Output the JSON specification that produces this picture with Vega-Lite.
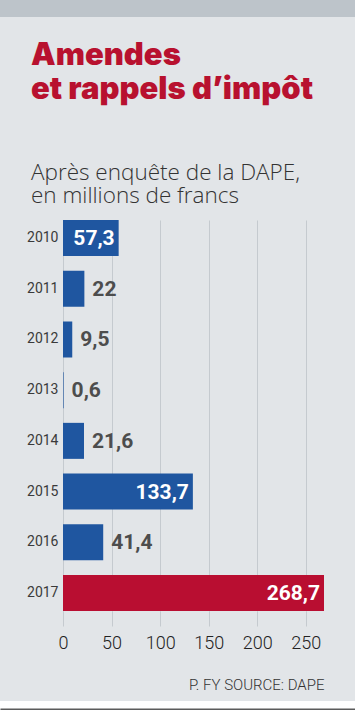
{
  "$schema": "https://vega.github.io/schema/vega-lite/v6.json",
  "background": "#e2e5e8",
  "padding": 0,
  "spacing": 22,
  "config": {"view": {"stroke": null}},
  "vconcat": [
    {
      "width": 355,
      "height": 17,
      "view": {"fill": "#bdc4ca", "stroke": null},
      "data": {"values": [{"a": 1}]},
      "mark": {"type": "text", "text": ""}
    },
    {
      "spacing": 7,
      "vconcat": [
        {
          "width": 325,
          "height": 391,
          "data": {
            "values": [
              {"year": "2010", "value": 57.3, "label": "57,3"},
              {"year": "2011", "value": 22, "label": "22"},
              {"year": "2012", "value": 9.5, "label": "9,5"},
              {"year": "2013", "value": 0.6, "label": "0,6"},
              {"year": "2014", "value": 21.6, "label": "21,6"},
              {"year": "2015", "value": 133.7, "label": "133,7"},
              {"year": "2016", "value": 41.4, "label": "41,4"},
              {"year": "2017", "value": 268.7, "label": "268,7"}
            ]
          },
          "title": {
            "text": ["Amendes", "et rappels d’impôt"],
            "subtitle": ["Après enquête de la DAPE,", "en millions de francs"],
            "anchor": "start",
            "frame": "group",
            "dx": 31,
            "font": "Inter",
            "fontSize": 31,
            "fontWeight": 900,
            "color": "#b8112f",
            "lineHeight": 34,
            "subtitleFont": "Open Sans",
            "subtitleFontSize": 22.5,
            "subtitleFontWeight": 300,
            "subtitleColor": "#333333",
            "subtitleLineHeight": 23,
            "subtitlePadding": 56,
            "offset": 12
          },
          "encoding": {
            "y": {
              "field": "year",
              "type": "nominal",
              "sort": null,
              "scale": {"paddingInner": 0.29, "paddingOuter": 0},
              "axis": {
                "title": null,
                "domain": false,
                "ticks": false,
                "offset": -63,
                "labelPadding": 5,
                "labelFont": "Roboto",
                "labelFontSize": 14,
                "labelFontWeight": 400,
                "labelColor": "#3a3a3a"
              }
            },
            "x": {
              "field": "value",
              "type": "quantitative",
              "scale": {"domain": [0, 268.7], "nice": false, "range": [63, 324]},
              "axis": {
                "title": "P. FY SOURCE: DAPE",
                "titleAnchor": "end",
                "titleFont": "Roboto",
                "titleFontSize": 15,
                "titleFontWeight": 300,
                "titleColor": "#333333",
                "titlePadding": 25,
                "domain": false,
                "grid": true,
                "gridColor": "#c5cacf",
                "tickColor": "#c5cacf",
                "tickSize": 15,
                "values": [0, 50, 100, 150, 200, 250],
                "labelFlush": false,
                "labelFont": "Roboto",
                "labelFontSize": 18,
                "labelFontWeight": 300,
                "labelColor": "#222222",
                "labelPadding": 8
              }
            }
          },
          "layer": [
            {
              "mark": {"type": "bar"},
              "encoding": {
                "color": {
                  "condition": {"test": "datum.year === '2017'", "value": "#b90e31"},
                  "value": "#1f56a0"
                }
              }
            },
            {
              "transform": [{"filter": "datum.value > 50"}],
              "mark": {"type": "text", "align": "right", "baseline": "middle", "dx": -4, "dy": 1, "font": "Roboto", "fontSize": 21, "fontWeight": 700, "color": "#ffffff"},
              "encoding": {"text": {"field": "label"}}
            },
            {
              "transform": [{"filter": "datum.value <= 50"}],
              "mark": {"type": "text", "align": "left", "baseline": "middle", "dx": 8, "dy": 1, "font": "Roboto", "fontSize": 21, "fontWeight": 700, "color": "#4d4d4d"},
              "encoding": {"text": {"field": "label"}}
            }
          ]
        },
        {
          "width": 355,
          "height": 8.5,
          "view": {"fill": "#ffffff", "stroke": null},
          "data": {"values": [{"v": 0}]},
          "mark": {"type": "text", "text": ""},
          "encoding": {
            "x": {
              "field": "v",
              "type": "quantitative",
              "axis": {"domain": true, "domainColor": "#5b5b5b", "domainWidth": 3, "labels": false, "ticks": false, "grid": false, "title": null}
            }
          }
        }
      ]
    }
  ]
}
